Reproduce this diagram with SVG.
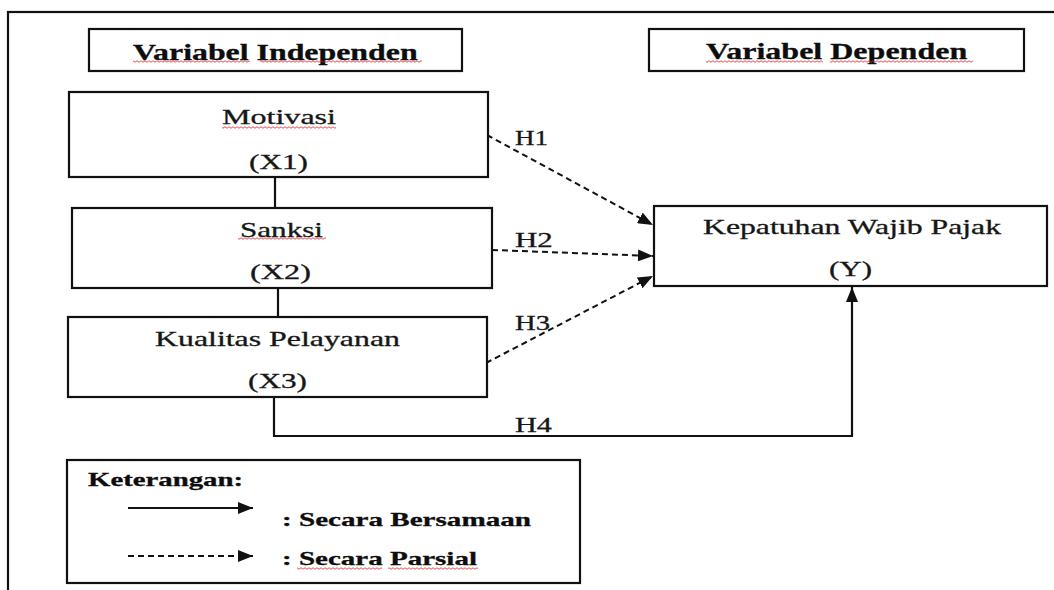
<svg xmlns="http://www.w3.org/2000/svg" width="1054" height="590" viewBox="0 0 1054 590">
<style>
  .box{fill:#fff;stroke:#111;stroke-width:2.2}
  .t{font-family:"Liberation Serif","Times New Roman",serif;fill:#161616;stroke:#161616;stroke-width:0.3;font-size:21px}
  .b{font-family:"Liberation Serif","Times New Roman",serif;fill:#0d0d0d;stroke:#0d0d0d;stroke-width:0.3;font-weight:bold}
  .ln{fill:none;stroke:#111;stroke-width:2.2}
  .dash{fill:none;stroke:#111;stroke-width:2;stroke-dasharray:6 4}
  .wavy{fill:url(#wave)}
</style>
<defs>
  <marker id="ah" markerUnits="userSpaceOnUse" markerWidth="15" markerHeight="12" refX="15" refY="6" orient="auto">
    <path d="M0,0 L15,6 L0,12 z" fill="#111"/>
  </marker>
  <pattern id="wave" patternUnits="userSpaceOnUse" width="4" height="3">
    <path d="M0,1.5 Q1,0 2,1.5 T4,1.5" fill="none" stroke="#e02020" stroke-width="0.8"/>
  </pattern>
</defs>
<rect width="1054" height="590" fill="#fff"/>
<rect x="8" y="12" width="1070" height="610" fill="none" stroke="#111" stroke-width="2.2"/>

<g id="title-independen">
  <rect class="box" x="89" y="29" width="373" height="42"/>
  <text class="b" font-size="23" transform="translate(133,60) scale(1.375,1)" textLength="207" lengthAdjust="spacingAndGlyphs">Variabel Independen</text>
  <rect class="wavy" x="133" y="60" width="117" height="3"/>
  <rect class="wavy" x="260" y="60" width="162" height="3"/>
</g>
<g id="title-dependen">
  <rect class="box" x="649" y="29" width="375" height="42"/>
  <text class="b" font-size="23" transform="translate(706,59) scale(1.375,1)" textLength="190" lengthAdjust="spacingAndGlyphs">Variabel Dependen</text>
  <rect class="wavy" x="706" y="60" width="117" height="3"/>
  <rect class="wavy" x="830" y="60" width="143" height="3"/>
</g>

<g id="connectors">
  <line class="ln" x1="275" y1="177" x2="275" y2="208"/>
  <line class="ln" x1="278" y1="288" x2="278" y2="317"/>
  <path class="ln" d="M274,397 V436 H852 V287" marker-end="url(#ah)"/>
  <line class="dash" x1="487" y1="135" x2="653" y2="225" marker-end="url(#ah)"/>
  <line class="dash" x1="492" y1="250" x2="653" y2="256" marker-end="url(#ah)"/>
  <line class="dash" x1="486" y1="363" x2="653" y2="276" marker-end="url(#ah)"/>
  <text class="t" transform="translate(515,145) scale(1.4,1)" textLength="23.6" lengthAdjust="spacingAndGlyphs">H1</text>
  <text class="t" transform="translate(515,247) scale(1.4,1)" textLength="27" lengthAdjust="spacingAndGlyphs">H2</text>
  <text class="t" transform="translate(515,330) scale(1.4,1)" textLength="25" lengthAdjust="spacingAndGlyphs">H3</text>
  <text class="t" transform="translate(515,432) scale(1.4,1)" textLength="26.4" lengthAdjust="spacingAndGlyphs">H4</text>
</g>

<g id="x1">
  <rect class="box" x="69" y="92" width="419" height="85"/>
  <text class="t" transform="translate(222,124) scale(1.5,1)" textLength="76" lengthAdjust="spacingAndGlyphs">Motivasi</text>
  <rect class="wavy" x="222" y="126" width="114" height="3"/>
  <text class="t" transform="translate(249,169) scale(1.5,1)" textLength="39.3" lengthAdjust="spacingAndGlyphs">(X1)</text>
</g>
<g id="x2">
  <rect class="box" x="72" y="208" width="420" height="80"/>
  <text class="t" transform="translate(240,237) scale(1.5,1)" textLength="55.3" lengthAdjust="spacingAndGlyphs">Sanksi</text>
  <rect class="wavy" x="238" y="237" width="88" height="3"/>
  <text class="t" transform="translate(250,279) scale(1.5,1)" textLength="40.7" lengthAdjust="spacingAndGlyphs">(X2)</text>
</g>
<g id="x3">
  <rect class="box" x="68" y="317" width="419" height="80"/>
  <text class="t" transform="translate(155,346) scale(1.5,1)" textLength="163.3" lengthAdjust="spacingAndGlyphs">Kualitas Pelayanan</text>
  <text class="t" transform="translate(248,388) scale(1.5,1)" textLength="39.3" lengthAdjust="spacingAndGlyphs">(X3)</text>
</g>
<g id="y">
  <rect class="box" x="654" y="206" width="393" height="80"/>
  <text class="t" transform="translate(703,234) scale(1.5,1)" textLength="198.7" lengthAdjust="spacingAndGlyphs">Kepatuhan Wajib Pajak</text>
  <text class="t" transform="translate(829,276) scale(1.5,1)" textLength="28.7" lengthAdjust="spacingAndGlyphs">(Y)</text>
</g>

<g id="legend">
  <rect class="box" x="67" y="460" width="513" height="123"/>
  <text class="b" font-size="18.5" transform="translate(88,486) scale(1.55,1)" textLength="100" lengthAdjust="spacingAndGlyphs">Keterangan:</text>
  <line class="ln" x1="128" y1="508" x2="253" y2="508" marker-end="url(#ah)"/>
  <text class="b" font-size="18.5" transform="translate(282,526) scale(1.55,1)" textLength="160.6" lengthAdjust="spacingAndGlyphs">: Secara Bersamaan</text>
  <line class="dash" x1="128" y1="556" x2="253" y2="556" marker-end="url(#ah)"/>
  <text class="b" font-size="18.5" transform="translate(282,565) scale(1.55,1)" textLength="125.8" lengthAdjust="spacingAndGlyphs">: Secara Parsial</text>
  <rect class="wavy" x="297" y="567" width="85" height="3"/>
  <rect class="wavy" x="388" y="567" width="90" height="3"/>
</g>
</svg>
